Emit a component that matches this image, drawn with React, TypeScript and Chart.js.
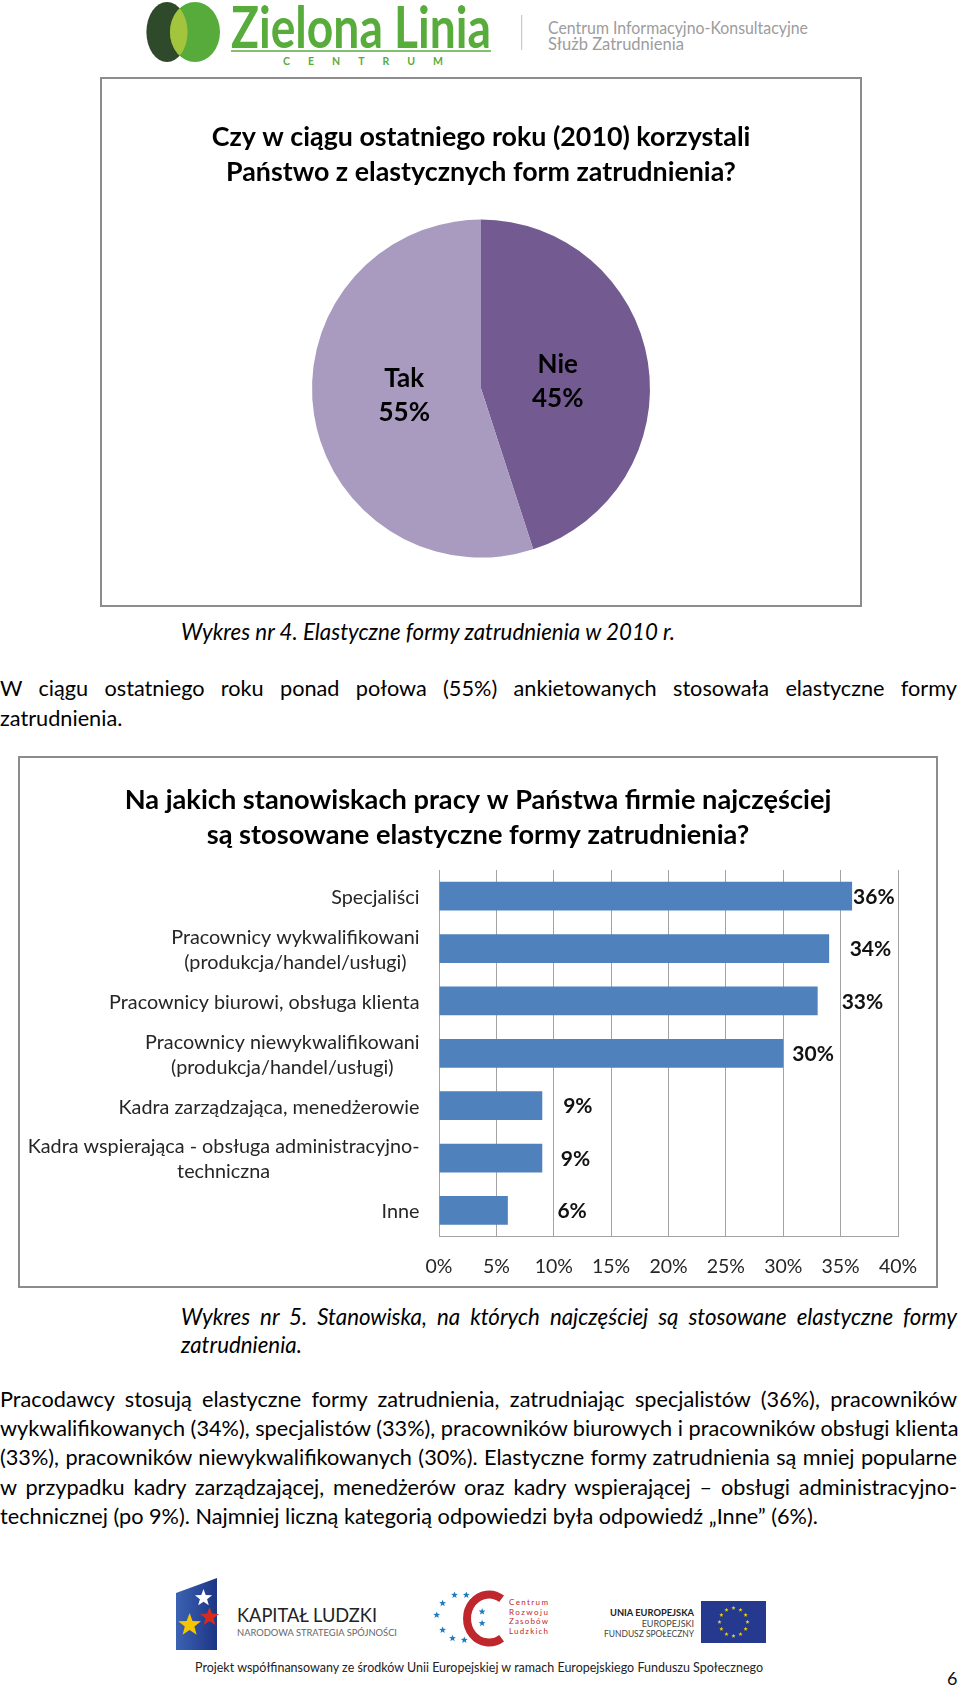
import React, { useEffect, useRef } from 'react';
import { Chart, registerables } from 'chart.js';

Chart.register(...registerables);

const FONT = 'Lato, "Noto Sans", "Liberation Sans", sans-serif';

// ---------- Chart 1 (pie) ----------
const pieTitle = ['Czy w ciągu ostatniego roku (2010) korzystali', 'Państwo z elastycznych form zatrudnienia?'];
const pieLabels = ['Nie', 'Tak'];
const pieValues = [45, 55];
const pieColors = ['#735B92', '#A89BBF'];

// ---------- Chart 2 (horizontal bars) ----------
const barTitle = ['Na jakich stanowiskach pracy w Państwa firmie najczęściej', 'są stosowane elastyczne formy zatrudnienia?'];
const barCategories = [
  ['Specjaliści'],
  ['Pracownicy wykwalifikowani', '(produkcja/handel/usługi)'],
  ['Pracownicy biurowi, obsługa klienta'],
  ['Pracownicy niewykwalifikowani', '(produkcja/handel/usługi)'],
  ['Kadra zarządzająca, menedżerowie'],
  ['Kadra wspierająca - obsługa administracyjno-', 'techniczna'],
  ['Inne'],
];
const barValues = [36, 34, 33, 30, 9, 9, 6];
// where each value label sits, in axis units (%)
const barLabelPos = [37.9, 37.6, 36.9, 32.6, 12.1, 11.9, 11.6];
const xTickLabels = ['0%', '5%', '10%', '15%', '20%', '25%', '30%', '35%', '40%'];

const pieLabelPlugin = {
  id: 'pieLabels',
  afterDatasetsDraw(chart: any) {
    const meta = chart.getDatasetMeta(0);
    const ctx = chart.ctx;
    ctx.save();
    ctx.font = `bold 26px ${FONT}`;
    ctx.fillStyle = '#000';
    ctx.textAlign = 'center';
    ctx.textBaseline = 'middle';
    meta.data.forEach((arc: any, i: number) => {
      const p = arc.getProps(['x', 'y', 'startAngle', 'endAngle', 'outerRadius'], true);
      const mid = (p.startAngle + p.endAngle) / 2;
      const r = p.outerRadius * 0.46;
      const cx = p.x + Math.cos(mid) * r;
      const cy = p.y + Math.sin(mid) * r * 0.55;
      ctx.fillText(pieLabels[i], cx, cy - 17);
      ctx.fillText(pieValues[i] + '%', cx, cy + 17);
    });
    ctx.restore();
  },
};

const barTextPlugin = {
  id: 'barTexts',
  afterDraw(chart: any) {
    const ctx = chart.ctx;
    const ys = chart.scales.y;
    const xs = chart.scales.x;
    ctx.save();
    // category labels: block right-aligned, lines centred within the block
    ctx.font = `19.8px ${FONT}`;
    ctx.fillStyle = '#262626';
    ctx.textAlign = 'center';
    ctx.textBaseline = 'middle';
    const right = ys.right - 19.5;
    barCategories.forEach((lines, i) => {
      const cy = ys.getPixelForValue(i) + 1.5;
      const maxW = Math.max(...lines.map((l) => ctx.measureText(l).width));
      const cx = right - maxW / 2;
      lines.forEach((l, j) => ctx.fillText(l, cx, cy + (j - (lines.length - 1) / 2) * 25));
    });
    // value labels
    ctx.font = `bold 21px ${FONT}`;
    ctx.fillStyle = '#111';
    barValues.forEach((v, i) => {
      const x = xs.getPixelForValue(barLabelPos[i]);
      const y = ys.getPixelForValue(i) + 1;
      ctx.fillText(v + '%', x, y);
    });
    ctx.restore();
  },
};

function PieChart() {
  const ref = useRef<HTMLCanvasElement>(null);
  useEffect(() => {
    const chart = new Chart(ref.current as HTMLCanvasElement, {
      type: 'pie',
      data: {
        labels: pieLabels,
        datasets: [{ data: pieValues, backgroundColor: pieColors, borderWidth: 0 }],
      },
      options: {
        responsive: false,
        maintainAspectRatio: false,
        animation: false,
        layout: { padding: { top: 0, bottom: 47.4, left: 0, right: 0 } },
        plugins: {
          legend: { display: false },
          tooltip: { enabled: false },
          title: {
            display: true,
            text: pieTitle,
            color: '#000',
            font: { family: FONT, size: 26.8, weight: 'bold', lineHeight: 1.284 },
            padding: { top: 41.4, bottom: 30.4 },
          },
        },
      } as any,
      plugins: [pieLabelPlugin],
    });
    return () => chart.destroy();
  }, []);
  return <canvas ref={ref} width={758} height={526} style={{ display: 'block' }} />;
}

function BarChart() {
  const ref = useRef<HTMLCanvasElement>(null);
  useEffect(() => {
    const grey = '#A3A3A3';
    const chart = new Chart(ref.current as HTMLCanvasElement, {
      type: 'bar',
      data: {
        labels: barCategories.map((l) => l.join(' ')),
        datasets: [
          {
            data: barValues,
            backgroundColor: '#4F81BD',
            borderWidth: 0,
            barPercentage: 0.55,
            categoryPercentage: 1,
          },
        ],
      },
      options: {
        indexAxis: 'y',
        responsive: false,
        maintainAspectRatio: false,
        animation: false,
        layout: { padding: { top: 0, bottom: 8, left: 0, right: 0 } },
        scales: {
          x: {
            min: 0,
            max: 40,
            ticks: {
              stepSize: 5,
              autoSkip: false,
              maxRotation: 0,
              callback: (_v: any, i: number) => xTickLabels[i],
              color: '#262626',
              font: { family: FONT, size: 19.5 },
              padding: 18.3,
            },
            grid: { color: grey, drawTicks: false, lineWidth: 1 },
            border: { color: grey, width: 1 },
            afterFit: (s: any) => {
              s.height = 41.4;
            },
          },
          y: {
            ticks: { display: false },
            grid: { display: false, drawTicks: false },
            border: { color: grey, width: 1 },
            afterFit: (s: any) => {
              s.width = 419;
            },
          },
          rightPad: {
            type: 'linear',
            position: 'right',
            display: true,
            ticks: { display: false },
            grid: { display: false, drawTicks: false },
            border: { display: false },
            afterFit: (s: any) => {
              s.width = 38;
            },
          },
        },
        plugins: {
          legend: { display: false },
          tooltip: { enabled: false },
          title: {
            display: true,
            text: barTitle,
            color: '#000',
            font: { family: FONT, size: 27.2, weight: 'bold', lineHeight: 1.287 },
            padding: { top: 24.5, bottom: 17.5 },
          },
        },
      } as any,
      plugins: [barTextPlugin],
    });
    return () => chart.destroy();
  }, []);
  return <canvas ref={ref} width={916} height={528} style={{ display: 'block' }} />;
}

function starPath(cx: number, cy: number, R: number, rot = -Math.PI / 2) {
  const r = R * 0.42;
  let d = '';
  for (let k = 0; k < 10; k++) {
    const rad = k % 2 === 0 ? R : r;
    const a = rot + (k * Math.PI) / 5;
    d += (k === 0 ? 'M' : 'L') + (cx + rad * Math.cos(a)).toFixed(2) + ' ' + (cy + rad * Math.sin(a)).toFixed(2);
  }
  return d + 'Z';
}

function Line(props: { top: number; left?: number; width?: number; text: string; justify?: boolean; italic?: boolean; size?: number }) {
  const { top, left = 0, width = 957, text, justify = false, italic = false, size = 21.7 } = props;
  return (
    <div
      style={{
        position: 'absolute',
        top,
        left,
        width,
        height: 30,
        lineHeight: '30px',
        fontSize: size,
        fontStyle: italic ? 'italic' : 'normal',
        textAlign: justify ? 'justify' : 'left',
        textAlignLast: justify ? 'justify' : 'left',
        color: '#000',
        whiteSpace: 'nowrap',
      } as any}
    >
      {text}
    </div>
  );
}

function Header() {
  return (
    <svg width={960} height={70} style={{ position: 'absolute', left: 0, top: 0 }}>
      <defs>
        <clipPath id="darkClip">
          <ellipse cx={167} cy={32} rx={20.6} ry={30} />
        </clipPath>
      </defs>
      <ellipse cx={167} cy={32} rx={20.6} ry={30} fill="#2F4A2B" />
      <ellipse cx={195} cy={32} rx={25} ry={30} fill="#56AB3B" />
      <ellipse cx={195} cy={32} rx={25} ry={30} fill="#A3C53E" clipPath="url(#darkClip)" />
      <text x={231} y={48} fontFamily={FONT} fontWeight="bold" fontSize={58} fill="#58AC3C" textLength={260} lengthAdjust="spacingAndGlyphs">
        Zielona Linia
      </text>
      <line x1={231} x2={491} y1={51} y2={51} stroke="#58AC3C" strokeWidth={1.5} />
      <text x={283} y={64.5} fontFamily={FONT} fontWeight="bold" fontSize={10.5} fill="#58AC3C" textLength={160} lengthAdjust="spacing">
        CENTRUM
      </text>
      <line x1={521.6} x2={521.6} y1={15} y2={50} stroke="#C8C8C8" strokeWidth={1.2} />
      <text x={548} y={34} fontFamily={FONT} fontSize={18} fill="#9C9C9C" textLength={260} lengthAdjust="spacingAndGlyphs">
        Centrum Informacyjno-Konsultacyjne
      </text>
      <text x={548} y={50} fontFamily={FONT} fontSize={18} fill="#9C9C9C" textLength={136} lengthAdjust="spacingAndGlyphs">
        Służb Zatrudnienia
      </text>
    </svg>
  );
}

function Footer() {
  const crzlStars = [
    [454.5, 1595], [466.3, 1595], [442.6, 1603.3], [436.7, 1615], [442.6, 1630],
    [452.5, 1638.3], [464.3, 1640], [482.1, 1611.7], [482.1, 1623.3],
  ];
  const euStars = Array.from({ length: 12 }, (_, k) => {
    const a = (k * Math.PI) / 6;
    return [733.5 + 14 * Math.cos(a), 1622 + 14 * Math.sin(a)];
  });
  return (
    <svg width={960} height={126} viewBox="0 1560 960 126" style={{ position: 'absolute', left: 0, top: 1560 }}>
      <defs>
        <linearGradient id="klGrad" x1="0" x2="1" y1="0" y2="0">
          <stop offset="0" stopColor="#3C63B3" />
          <stop offset="1" stopColor="#1C3584" />
        </linearGradient>
      </defs>
      <polygon points="176,1593 217,1578 217,1650 176,1650" fill="url(#klGrad)" />
      <path d={starPath(203.5, 1598, 9)} fill="#FFFFFF" />
      <path d={starPath(209.5, 1617, 10)} fill="#D52B1E" />
      <path d={starPath(189.6, 1625, 12)} fill="#F7C400" />
      <text x={237} y={1622} fontFamily={FONT} fontSize={20} fill="#222" textLength={140} lengthAdjust="spacingAndGlyphs">
        KAPITAŁ LUDZKI
      </text>
      <text x={237} y={1635.5} fontFamily={FONT} fontSize={10} fill="#666" textLength={160} lengthAdjust="spacingAndGlyphs">
        NARODOWA STRATEGIA SPÓJNOŚCI
      </text>

      {crzlStars.map(([x, y], k) => (
        <path key={k} d={starPath(x, y, 3.6)} fill="#1E7BC0" />
      ))}
      <path d="M 501.6 1598.8 A 22 24 0 1 0 501.6 1638.2" fill="none" stroke="#C0272D" strokeWidth={8} />
      {['Centrum', 'Rozwoju', 'Zasobów', 'Ludzkich'].map((t, k) => (
        <text key={t} x={509} y={1605 + k * 9.5} fontFamily={FONT} fontSize={8} fill="#C0272D" textLength={39} lengthAdjust="spacing">
          {t}
        </text>
      ))}

      <text x={694} y={1616} textAnchor="end" fontFamily={FONT} fontWeight="bold" fontSize={10} fill="#222" textLength={84} lengthAdjust="spacingAndGlyphs">
        UNIA EUROPEJSKA
      </text>
      <text x={694} y={1627} textAnchor="end" fontFamily={FONT} fontSize={9} fill="#444">
        EUROPEJSKI
      </text>
      <text x={694} y={1637} textAnchor="end" fontFamily={FONT} fontSize={9} fill="#444" textLength={90} lengthAdjust="spacingAndGlyphs">
        FUNDUSZ SPOŁECZNY
      </text>
      <rect x={701} y={1601} width={65} height={42} fill="#25398F" />
      {euStars.map(([x, y], k) => (
        <path key={k} d={starPath(x, y, 2.2)} fill="#F5D300" />
      ))}

      <text x={195} y={1672} fontFamily={FONT} fontSize={14} fill="#222" textLength={568} lengthAdjust="spacingAndGlyphs">
        Projekt współfinansowany ze środków Unii Europejskiej w ramach Europejskiego Funduszu Społecznego
      </text>
      <text x={947} y={1685} fontFamily={FONT} fontSize={18} fill="#111">
        6
      </text>
    </svg>
  );
}

export default function App() {
  return (
    <div
      style={{
        position: 'absolute',
        left: 0,
        top: 0,
        width: 960,
        height: 1686,
        overflow: 'hidden',
        background: '#fff',
        fontFamily: FONT,
        color: '#000',
      }}
    >
      <Header />

      <div style={{ position: 'absolute', left: 100, top: 77, width: 762, height: 530, border: '2px solid #8C8C8C', boxSizing: 'border-box' }}>
        <PieChart />
      </div>

      <Line top={617} left={181} width={700} italic size={22.3} text="Wykres nr 4. Elastyczne formy zatrudnienia w 2010 r." />
      <Line top={673} justify text="W ciągu ostatniego roku ponad połowa (55%) ankietowanych stosowała elastyczne formy" />
      <Line top={703} text="zatrudnienia." />

      <div style={{ position: 'absolute', left: 18, top: 756, width: 920, height: 532, border: '2px solid #8C8C8C', boxSizing: 'border-box' }}>
        <BarChart />
      </div>

      <Line top={1302} left={181} width={776} italic justify size={22.3} text="Wykres nr 5. Stanowiska, na których najczęściej są stosowane elastyczne formy" />
      <Line top={1330} left={181} width={776} italic size={22.3} text="zatrudnienia." />

      <Line top={1384} justify text="Pracodawcy stosują elastyczne formy zatrudnienia, zatrudniając specjalistów (36%), pracowników" />
      <Line top={1413} justify text="wykwalifikowanych (34%), specjalistów (33%), pracowników biurowych i pracowników obsługi klienta" />
      <Line top={1442} justify text="(33%), pracowników niewykwalifikowanych (30%). Elastyczne formy zatrudnienia są mniej popularne" />
      <Line top={1471.5} justify text="w przypadku kadry zarządzającej, menedżerów oraz kadry wspierającej – obsługi administracyjno-" />
      <Line top={1501} text="technicznej (po 9%). Najmniej liczną kategorią odpowiedzi była odpowiedź „Inne” (6%)." />

      <Footer />
    </div>
  );
}
